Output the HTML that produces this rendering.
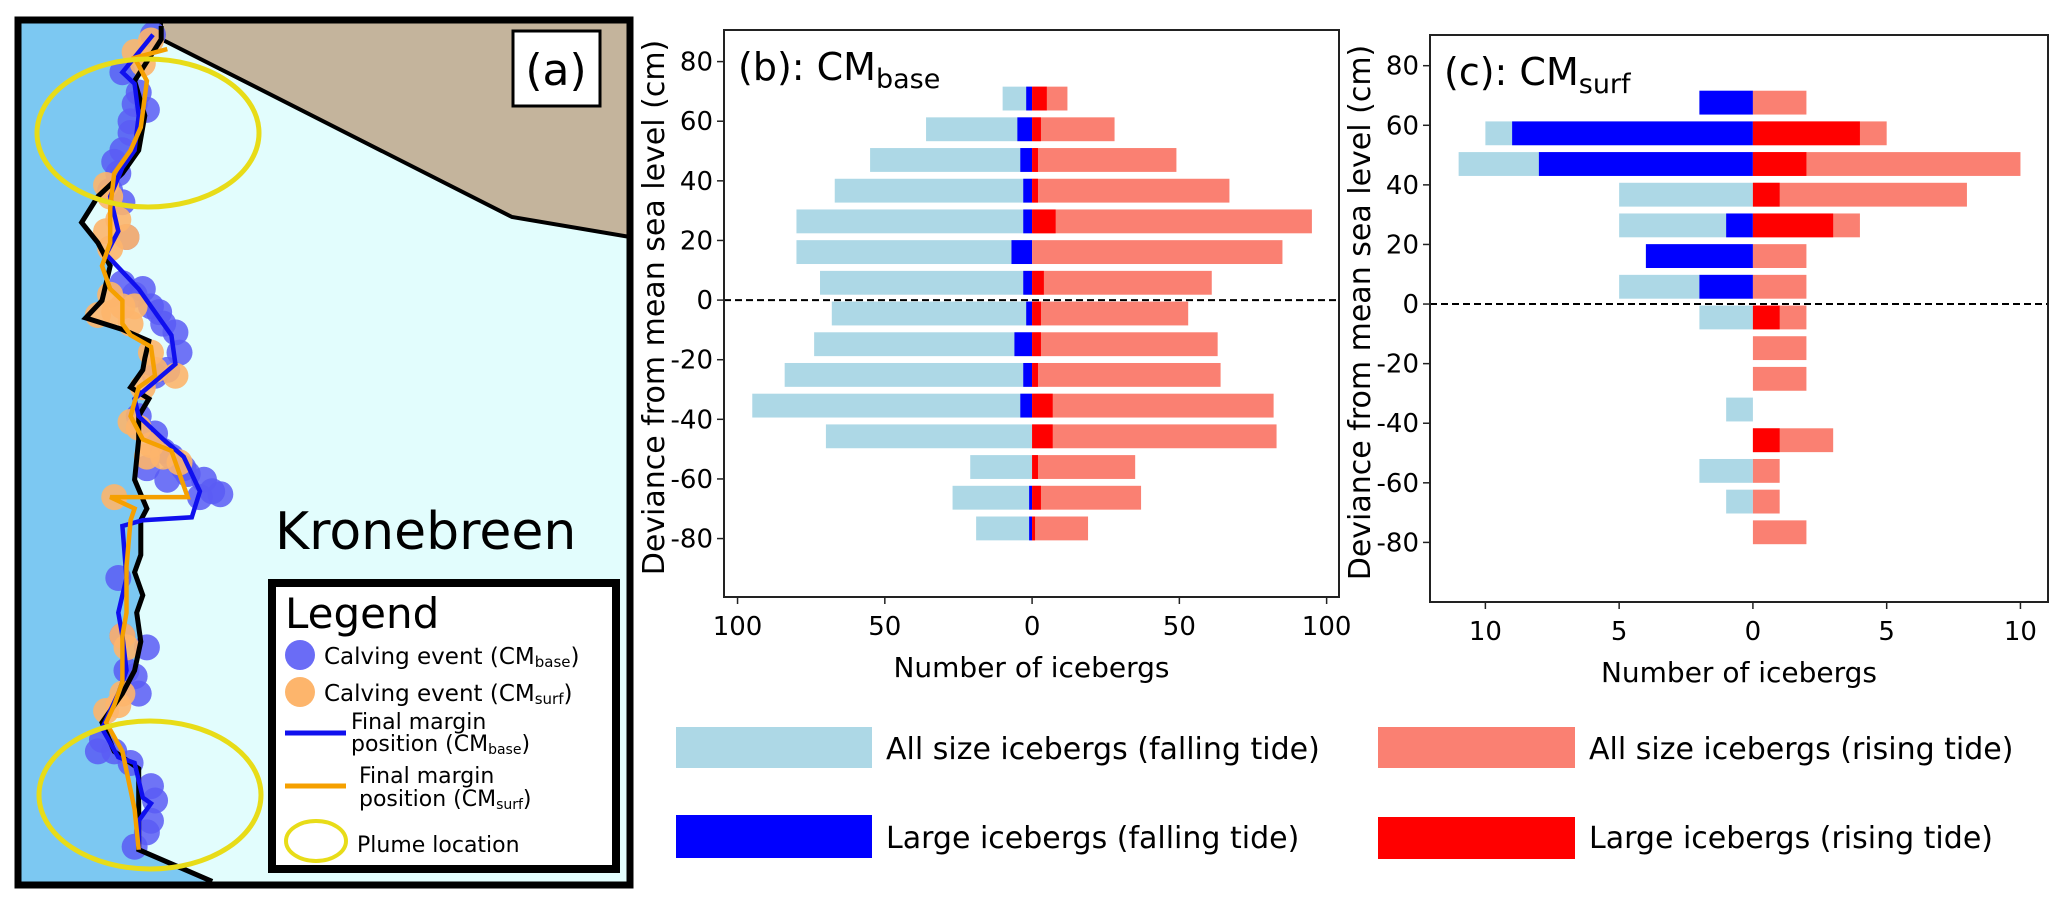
<!DOCTYPE html>
<html><head><meta charset="utf-8"><style>
html,body{margin:0;padding:0;background:#fff;width:2067px;height:907px;overflow:hidden}
svg{display:block;font-family:"DejaVu Sans","Liberation Sans",sans-serif}
</style></head><body>
<svg id="fig" width="2067" height="907" viewBox="0 0 2067 907">
 <g id="panelA">
  <rect x="18" y="20" width="612" height="865" fill="#e2fdfd"/>
  <polygon id="skyPoly" fill="#7cc8f2"/>
  <polygon points="161,20 630,20 630,237 512,217 161,39" fill="#c4b49c" stroke="#000" stroke-width="4"/>
  <g id="dotsB"></g>
  <g id="dotsS"></g>
  <polyline id="lineBlack" fill="none" stroke="#000" stroke-width="5"/>
  <polyline id="lineBlue" fill="none" stroke="#1010ee" stroke-width="4.5"/>
  <polyline id="lineOrange" fill="none" stroke="#f5a000" stroke-width="4.5"/>
  <ellipse cx="148" cy="133" rx="111" ry="74" fill="none" stroke="#e8dc18" stroke-width="5"/>
  <ellipse cx="150" cy="795" rx="111" ry="74" fill="none" stroke="#e8dc18" stroke-width="5"/>
  <rect x="18" y="20" width="612" height="865" fill="none" stroke="#000" stroke-width="7"/>
  <rect x="513" y="31" width="87" height="75" fill="#fff" stroke="#000" stroke-width="3"/>
  <text x="556" y="85" font-size="44" text-anchor="middle">(a)</text>
  <text x="275" y="549" font-size="52">Kronebreen</text>
  <g>
   <rect x="272" y="583" width="344" height="286" fill="#fff" stroke="#000" stroke-width="8"/>
   <text x="285" y="628" font-size="42">Legend</text>
   <circle cx="300" cy="655" r="15" fill="#5a5cf5" opacity="0.9"/>
   <text x="324" y="664" font-size="23">Calving event (CM<tspan font-size="15" dy="3">base</tspan><tspan dy="-3">)</tspan></text>
   <circle cx="300" cy="692" r="15" fill="#fdb56c"/>
   <text x="324" y="701" font-size="23">Calving event (CM<tspan font-size="15" dy="3">surf</tspan><tspan dy="-3">)</tspan></text>
   <line x1="285" y1="733" x2="346" y2="733" stroke="#1010ee" stroke-width="5"/>
   <text x="351" y="729" font-size="22">Final margin</text>
   <text x="351" y="751" font-size="22">position (CM<tspan font-size="14" dy="3">base</tspan><tspan dy="-3">)</tspan></text>
   <line x1="285" y1="786" x2="346" y2="786" stroke="#f5a000" stroke-width="5"/>
   <text x="359" y="783" font-size="22">Final margin</text>
   <text x="359" y="806" font-size="22">position (CM<tspan font-size="14" dy="3">surf</tspan><tspan dy="-3">)</tspan></text>
   <ellipse cx="316" cy="841" rx="30" ry="20" fill="none" stroke="#e8dc18" stroke-width="4"/>
   <text x="357" y="852" font-size="22">Plume location</text>
  </g>
 </g>
 <g id="chartB"></g>
 <g id="chartC"></g>
 <g>
  <rect x="676" y="727" width="196" height="41" fill="#add8e6"/>
  <text x="886" y="759" font-size="30">All size icebergs (falling tide)</text>
  <rect x="676" y="815" width="196" height="43" fill="#0000ff"/>
  <text x="886" y="848" font-size="30">Large icebergs (falling tide)</text>
  <rect x="1378" y="727" width="197" height="41" fill="#fa8072"/>
  <text x="1589" y="759" font-size="30">All size icebergs (rising tide)</text>
  <rect x="1378" y="817" width="197" height="42" fill="#ff0000"/>
  <text x="1589" y="848" font-size="30">Large icebergs (rising tide)</text>
 </g>
</svg>
<script>
// ---- chart data ----
const binCenters = [67.6,57.3,47.0,36.7,26.4,16.1,5.8,-4.5,-14.8,-25.1,-35.4,-45.7,-56.0,-66.3,-76.6];
const yTicks = [80,60,40,20,0,-20,-40,-60,-80];
const bAllFalling = [10,36,55,67,80,80,72,68,74,84,95,70,21,27,19];
const bLargeFalling = [2,5,4,3,3,7,3,2,6,3,4,0,0,1,1];
const bAllRising = [12,28,49,67,95,85,61,53,63,64,82,83,35,37,19];
const bLargeRising = [5,3,2,2,8,0,4,3,3,2,7,7,2,3,1];
const bXTicks = [-100,-50,0,50,100];
const bXTickLabels = ["100","50","0","50","100"];
const cAllFalling = [2,10,11,5,5,4,5,2,0,0,1,0,2,1,0];
const cLargeFalling = [2,9,8,0,1,4,2,0,0,0,0,0,0,0,0];
const cAllRising = [2,5,10,8,4,2,2,2,2,2,0,3,1,1,2];
const cLargeRising = [0,4,2,1,3,0,0,1,0,0,0,1,0,0,0];
const cXTicks = [-10,-5,0,5,10];
const cXTickLabels = ["10","5","0","5","10"];

const NS = "http://www.w3.org/2000/svg";
function mk(parent, tag, attrs, text){
  const e = document.createElementNS(NS, tag);
  for (const k in attrs) e.setAttribute(k, attrs[k]);
  if (text !== undefined) e.textContent = text;
  parent.appendChild(e); return e;
}

function drawChart(g, cfg){
  const {L,R,T,B,xmin,xmax,ymin,ymax} = cfg;
  const sx = v => L + (v - xmin) / (xmax - xmin) * (R - L);
  const sy = v => B - (v - ymin) / (ymax - ymin) * (B - T);
  const bh = 8 * (B - T) / (ymax - ymin);
  const series = [
    [cfg.allF, -1, "#add8e6", "bar-all-falling"],
    [cfg.largeF, -1, "#0000ff", "bar-large-falling"],
    [cfg.allR, 1, "#fa8072", "bar-all-rising"],
    [cfg.largeR, 1, "#ff0000", "bar-large-rising"]
  ];
  series.forEach(s => {
    binCenters.forEach((c, i) => {
      const v = s[0][i]; if (!v) return;
      const x0 = sx(0), x1 = sx(s[1] * v);
      const r = mk(g, "rect", {x: Math.min(x0,x1), y: sy(c) - bh/2, width: Math.abs(x1-x0), height: bh, fill: s[2]});
      
      
    });
  });
  const z = mk(g, "line", {x1: L, x2: R, y1: sy(0), y2: sy(0), stroke: "#000", "stroke-width": 2, "stroke-dasharray": "7,4"});
  
  
  const fr = mk(g, "rect", {x: L, y: T, width: R-L, height: B-T, fill: "none", stroke: "#222", "stroke-width": 2});
  
  
  yTicks.forEach(t => {
    const tk = mk(g, "line", {x1: L-7, x2: L, y1: sy(t), y2: sy(t), stroke: "#222", "stroke-width": 1.5});
    
    
    const tl = mk(g, "text", {x: L-11, y: sy(t)+9, "font-size": 26, "text-anchor": "end"}, String(t));
    
    
  });
  cfg.xt.forEach((t, i) => {
    const tk = mk(g, "line", {x1: sx(t), x2: sx(t), y1: B, y2: B+7, stroke: "#222", "stroke-width": 1.5});
    
    
    const tl = mk(g, "text", {x: sx(t), y: B+38, "font-size": 26, "text-anchor": "middle"}, cfg.xtl[i]);
    
    
  });
  const xt = mk(g, "text", {x: (L+R)/2, y: B+80, "font-size": 28, "text-anchor": "middle"}, "Number of icebergs");
  
  
  const yt = mk(g, "text", {x: 0, y: 0, "font-size": 30, "text-anchor": "middle", transform: `translate(${cfg.yTitleX},${(T+B)/2 - 6}) rotate(-90)`}, "Deviance from mean sea level (cm)");
  
  
  const ti = mk(g, "text", {x: L+14, y: T+50, "font-size": 38});
  
  
  ti.textContent = cfg.title + ": CM";
  const sub = mk(ti, "tspan", {"font-size": 27, dy: 8}, cfg.sub);
  
  
}

drawChart(document.getElementById("chartB"), {L:724,R:1339,T:30,B:597,xmin:-104.6,xmax:104.2,ymin:-99.6,ymax:90.6,
  allF:bAllFalling,largeF:bLargeFalling,allR:bAllRising,largeR:bLargeRising,xt:bXTicks,xtl:bXTickLabels,
  yTitleX:664,title:"(b)",sub:"base"});
drawChart(document.getElementById("chartC"), {L:1430,R:2048,T:35,B:602,xmin:-12.07,xmax:11.03,ymin:-100,ymax:90.3,
  allF:cAllFalling,largeF:cLargeFalling,allR:cAllRising,largeR:cLargeRising,xt:cXTicks,xtl:cXTickLabels,
  yTitleX:1370,title:"(c)",sub:"surf"});

// ---- panel a illustration (zoom-space coords scaled to page) ----
const SX = 0.408, SY = 0.578;
const blackPts = [[395,45],[395,68],[330,140],[355,200],[340,260],[300,300],[240,340],[200,385],[240,420],[270,460],[250,520],[210,550],[300,570],[365,590],[355,620],[350,640],[320,670],[365,690],[340,720],[340,760],[330,830],[360,880],[345,900],[345,960],[330,990],[350,1030],[335,1060],[345,1110],[330,1160],[300,1200],[250,1250],[280,1300],[340,1330],[340,1400],[340,1470],[520,1525]];
const bluePts = [[375,60],[300,125],[330,145],[340,200],[330,260],[300,290],[270,340],[290,400],[260,440],[300,470],[340,500],[380,540],[420,580],[430,630],[380,660],[330,690],[340,720],[400,760],[450,790],[490,850],[470,895],[350,900],[300,910],[310,1000],[290,1060],[300,1100],[310,1160],[290,1200],[250,1260],[290,1310],[330,1320],[350,1380],[370,1390],[340,1420],[340,1470]];
const orangePts = [[410,85],[330,100],[360,140],[345,220],[320,260],[280,300],[270,360],[270,420],[250,460],[270,500],[300,520],[300,560],[320,580],[370,600],[380,650],[340,670],[320,720],[350,760],[420,780],[460,860],[270,860],[330,880],[320,900],[310,980],[310,1060],[300,1100],[300,1180],[280,1220],[260,1250],[300,1300],[330,1400],[340,1470]];
const blueDots = [[375,60],[300,125],[330,180],[360,190],[320,230],[300,260],[280,280],[270,330],[300,350],[310,410],[300,490],[330,510],[370,530],[390,540],[430,575],[440,610],[410,640],[380,650],[340,720],[380,750],[420,790],[450,810],[500,830],[540,855],[490,860],[410,830],[360,810],[290,1000],[300,1100],[360,1120],[330,1170],[340,1200],[250,1280],[280,1300],[320,1320],[370,1360],[380,1385],[360,1440],[330,1465],[240,1300],[310,1160],[320,210],[340,160],[290,300],[350,500],[400,560],[400,780],[460,820],[520,850],[370,1420]];
const orangeDots = [[370,70],[330,90],[350,110],[260,320],[270,340],[260,400],[310,410],[270,430],[270,510],[240,545],[280,540],[330,530],[320,560],[370,610],[380,640],[430,650],[350,670],[320,730],[370,770],[400,790],[440,800],[280,860],[300,1100],[300,1200],[260,1230],[290,1220],[360,790],[290,380],[300,530],[340,740],[310,1120]];
const ptsStr = a => a.map(p => (p[0]*SX).toFixed(1)+","+(p[1]*SY).toFixed(1)).join(" ");
document.getElementById("lineBlack").setAttribute("points", ptsStr(blackPts));
document.getElementById("lineBlue").setAttribute("points", ptsStr(bluePts));
document.getElementById("lineOrange").setAttribute("points", ptsStr(orangePts));
document.getElementById("skyPoly").setAttribute("points", "18,20 161,20 " + ptsStr(blackPts) + " 18,885");
const dB = document.getElementById("dotsB");
blueDots.forEach(p => {
  const c = mk(dB, "circle", {cx: p[0]*SX, cy: p[1]*SY, r: 13, fill: "#5a5cf5", opacity: 0.85});
  
  
});
const dS = document.getElementById("dotsS");
orangeDots.forEach(p => {
  const c = mk(dS, "circle", {cx: p[0]*SX, cy: p[1]*SY, r: 13, fill: "#fdb56c", opacity: 0.9});
  
  
});
</script>
</body></html>
